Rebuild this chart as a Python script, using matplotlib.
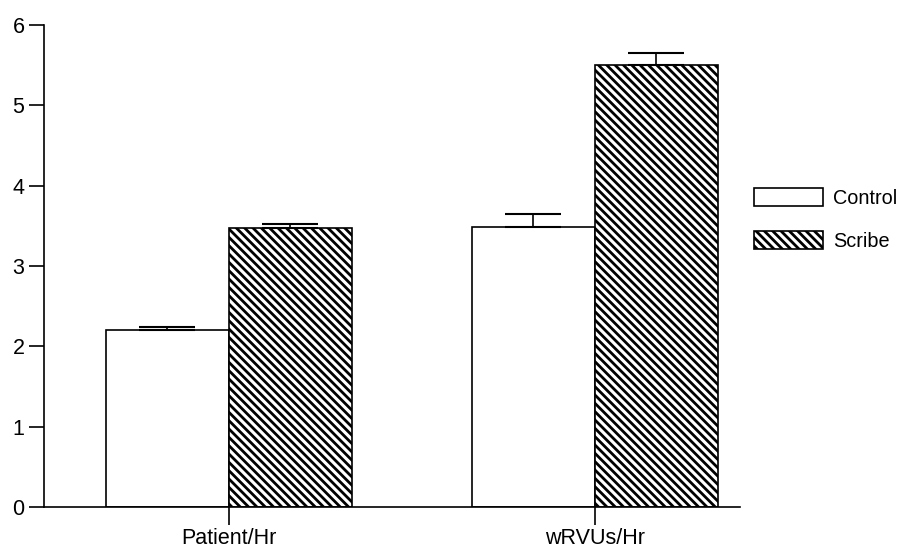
import matplotlib.pyplot as plt
import numpy as np

plt.rcParams['font.family'] = ['Liberation Sans', 'DejaVu Sans']
plt.rcParams['hatch.linewidth'] = 2.0

categories = ['Patient/Hr', 'wRVUs/Hr']
control = [2.2, 3.49]
control_err = [0.04, 0.16]
scribe = [3.47, 5.5]
scribe_err = [0.05, 0.15]

fig = plt.figure(figsize=(9.01, 5.5), dpi=100)
ax = fig.add_axes([0.0488, 0.078, 0.772, 0.877])

x = np.arange(len(categories))
w = 0.336
ax.bar(x - w / 2, control, w, facecolor='white', edgecolor='black', linewidth=1.2,
       yerr=[np.zeros(2), control_err], capsize=20,
       error_kw=dict(elinewidth=1.2, capthick=1.5), label='Control')
ax.bar(x + w / 2, scribe, w, facecolor='white', edgecolor='black', linewidth=1.2,
       hatch='\\\\\\\\', yerr=[np.zeros(2), scribe_err], capsize=20,
       error_kw=dict(elinewidth=1.2, capthick=1.5), label='Scribe')

ax.set_xlim(-0.505, 1.396)
ax.set_ylim(0, 6)
ax.set_yticks(range(7))
ax.set_xticks(x)
ax.set_xticklabels(categories)
ax.spines['top'].set_visible(False)
ax.spines['right'].set_visible(False)
for s in ['left', 'bottom']:
    ax.spines[s].set_linewidth(1.2)
ax.tick_params(axis='y', length=11, width=1.2, labelsize=15.5, pad=3)
ax.tick_params(axis='x', length=13, width=1.2, labelsize=15.5, pad=2)

fig.legend(loc='center left', bbox_to_anchor=(0.837, 0.601), frameon=False,
           fontsize=14.3, handlelength=3.47, handleheight=1.0, labelspacing=1.18,
           handletextpad=0.5, borderpad=0, borderaxespad=0)

fig.savefig('out.png', dpi=100)
